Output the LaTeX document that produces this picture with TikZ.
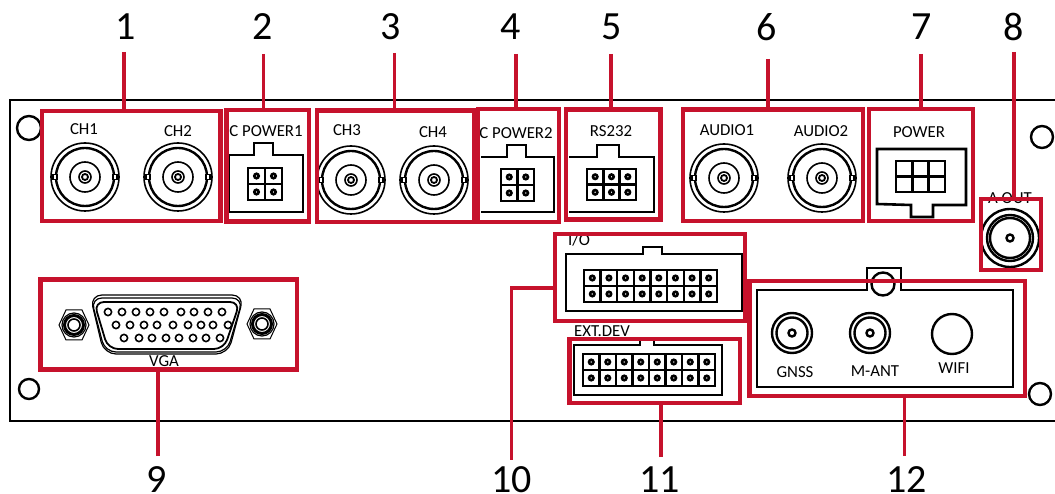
\documentclass[tikz,border=0pt]{standalone}
\usepackage{fontspec}
\setmainfont{Carlito}
\usetikzlibrary{fit}
\definecolor{callout}{RGB}{198,18,44}
\tikzset{
  redbox/.style={draw=callout,line width=4.6pt,inner sep=0pt,outer sep=0pt},
  lead/.style={draw=callout,line width=3.6pt},
  num/.style={inner sep=0pt,font=\fontsize{40}{40}\selectfont},
  lab/.style={inner sep=0pt,font=\fontsize{16.8}{17}\selectfont},
  panel/.style={draw=black,line width=1.9pt},
  thin/.style={draw=black,line width=1.6pt},
  thick/.style={draw=black,line width=2.4pt},
  housing/.style={draw=black,line width=2.6pt,line join=miter},
}
% BNC connector
\newcommand{\bncjack}[2]{%
  \draw[thin] (#1,#2) circle[radius=34pt];
  \draw[thick] (#1,#2) circle[radius=29pt];
  \draw[thin] (#1,#2) circle[radius=15pt];
  \draw[thin] (#1,#2) circle[radius=6pt];
  \draw[line width=1.8pt] (#1,#2) circle[radius=3pt];
  \draw[thin,fill=white] (#1-32,#2-2.5) rectangle (#1-28,#2+2.5);
  \draw[thin,fill=white] (#1+28,#2-2.5) rectangle (#1+32,#2+2.5);
}
% small coax
\newcommand{\coaxjack}[2]{%
  \draw[thick] (#1,#2) circle[radius=20pt];
  \draw[thick] (#1,#2) circle[radius=15.5pt];
  \draw[thick] (#1,#2) circle[radius=3.5pt];
}
% pin grid: x1 y1 x2 y2 nx ny withpins(1/0)
\newcommand{\pingrid}[7]{%
  \draw[line width=2.6pt] (#1,#2) rectangle (#3,#4);
  \pgfmathsetmacro{\cw}{(#3-#1)/#5}
  \pgfmathsetmacro{\ch}{(#4-#2)/#6}
  \foreach \i in {1,...,#5}{%
    \pgfmathsetmacro{\xx}{#1+\i*\cw}
    \draw[thick] (\xx,#2) -- (\xx,#4);
    \ifnum#7=1
      \foreach \j in {1,...,#6}{%
        \pgfmathsetmacro{\yy}{#2+(\j-0.5)*\ch}
        \pgfmathsetmacro{\xc}{\xx-0.5*\cw}
        \draw[line width=2.6pt] (\xc,\yy) circle[radius=2.2pt];
      }
    \fi
  }
  \foreach \j in {1,...,#6}{%
    \pgfmathsetmacro{\yy}{#2+\j*\ch}
    \draw[thick] (#1,\yy) -- (#3,\yy);
  }
}
\newcommand{\hexscrew}[2]{%
  \draw[line width=1pt] (#1-15,#2) -- (#1-8,#2-15) -- (#1+8,#2-15) -- (#1+15,#2) -- (#1+8,#2+15) -- (#1-8,#2+15) -- cycle;
  \draw[line width=1.2pt] (#1,#2) circle[radius=12pt];
  \draw[line width=3pt] (#1,#2) circle[radius=9.5pt];
  \draw[line width=1.6pt] (#1,#2) circle[radius=6pt];
}
\begin{document}
\begin{tikzpicture}[x=1pt,y=-1pt]
\useasboundingbox (0,0) rectangle (1055,494);
\clip (0,0) rectangle (1055,494);
% panel
\draw[panel] (1055,100) -- (10,100) -- (10,421) -- (1055,421);
\foreach \x/\y/\r in {29/128/12,1042/137/11,29/389/10,1040/394/11,883/284/11.5}
  \draw[thick] (\x,\y) circle[radius=\r pt];
% BNC jacks
\bncjack{85}{177}
\bncjack{178}{177}
\bncjack{351}{180}
\bncjack{434}{180}
\bncjack{724}{178}
\bncjack{822}{178}
% labels
\node[lab] (tch1) at (84,129) {CH1};
\node[lab] (tch2) at (178,131) {CH2};
\node[lab] (tch3) at (347,130) {CH3};
\node[lab] (tch4) at (433,132) {CH4};
\node[lab] (tcp1) at (266,131) {C POWER1};
\node[lab] (tcp2) at (516,133) {C POWER2};
\node[lab] (trs) at (611,131) {RS232};
\node[lab] (tau1) at (727,130) {AUDIO1};
\node[lab] (tau2) at (821,131) {AUDIO2};
\node[lab] (tpw) at (919,132) {POWER};
\node[lab] (taout) at (1010,198) {A OUT};
\node[lab] (tio) at (579,240) {I/O};
\node[lab] (text) at (602,331) {EXT.DEV};
\node[lab] (tgnss) at (795,372) {GNSS};
\node[lab] (tmant) at (875,371) {M-ANT};
\node[lab] (twifi) at (954,368) {WIFI};
\node[lab] (tvga) at (164,361) {VGA};
% C POWER1
\draw[housing] (229,155) -- (254,155) -- (254,143) -- (273,143) -- (273,155) -- (303,155) -- (303,212) -- (229,212) -- cycle;
\pingrid{248}{168}{282}{200}{2}{2}{1}
% C POWER2
\draw[housing] (481,157) -- (507,157) -- (507,145) -- (526,145) -- (526,157) -- (554,157) -- (554,212) -- (481,212);
\pingrid{501}{169}{534}{201}{2}{2}{1}
% RS232
\draw[housing] (569,157) -- (597,157) -- (597,145) -- (619,145) -- (619,157) -- (654,157) -- (654,212) -- (569,212);
\pingrid{587}{169}{636}{200}{3}{2}{1}
% POWER
\draw[housing] (877,149) -- (966,149) -- (966,205) -- (933,205) -- (933,217) -- (911,217) -- (911,205) -- (877,204) -- cycle;
\pingrid{896}{161}{945}{192}{3}{2}{0}
% A OUT
\draw[thick] (1010,238) circle[radius=29pt];
\draw[thick] (1010,238) circle[radius=23pt];
\draw[thick] (1010,238) circle[radius=20pt];
\draw[thick] (1010,238) circle[radius=3.5pt];
% I/O
\draw[housing] (566,254) -- (643,254) -- (643,247) -- (662,247) -- (662,254) -- (742,254) -- (742,311) -- (566,311) -- cycle;
\pingrid{584}{270}{717}{302}{8}{2}{1}
% EXT.DEV
\draw[housing] (640,341) -- (640,345) -- (574,345) -- (574,395) -- (722,395) -- (722,345) -- (654,345) -- (654,341);
\pingrid{583}{354}{715}{386}{8}{2}{1}
% antenna panel
\draw[housing] (757,290) -- (867,290) -- (867,268) -- (901,268) -- (901,290) -- (1013,290) -- (1013,387) -- (757,387) -- cycle;
\coaxjack{792}{333}
\coaxjack{870}{333}
\draw[thick] (952,334) circle[radius=20pt];
% VGA
\draw[line width=1.2pt,rounded corners=12pt] (90,295) -- (244,295) -- (228,354) -- (104,354) -- cycle;
\draw[line width=1.2pt,rounded corners=11pt] (91,298) -- (243,298) -- (227,352) -- (105,352) -- cycle;
\draw[line width=1.8pt,rounded corners=10pt] (94,302) -- (240,302) -- (224,349) -- (108,349) -- cycle;
\foreach \x in {108,122,136,150,164,181,194,208,222}
  \draw[line width=1.6pt] (\x,312) circle[radius=3.6pt];
\foreach \x in {116,130,144,157,173,188,201,213,228}
  \draw[line width=1.6pt] (\x,325) circle[radius=3.6pt];
\foreach \x in {124,139,152,166,179,193,206,220}
  \draw[line width=1.6pt] (\x,338) circle[radius=3.6pt];
\hexscrew{74}{325}
\hexscrew{262}{324}
% red boxes
\node[redbox,fit={(42,111) (220.5,221)}] (b1) {};
\node[redbox,fit={(226.5,110) (309,221.5)}] (b2) {};
\node[redbox,fit={(317,110.5) (474,222)}] (b3) {};
\node[redbox,fit={(478,109) (559,222)}] (b4) {};
\node[redbox,fit={(566,109.5) (660.5,219.5)}] (b5) {};
\node[redbox,fit={(683,109.5) (863,221)}] (b6) {};
\node[redbox,fit={(869,109) (973,221)}] (b7) {};
\node[redbox,fit={(981,199) (1041,270)}] (b8) {};
\node[redbox,fit={(40.5,279.5) (297,369.5)}] (b9) {};
\node[redbox,fit={(555,234) (745,321)}] (b10) {};
\node[redbox,fit={(569.5,339) (740,403)}] (b11) {};
\node[redbox,fit={(749.5,281) (1025,396)}] (b12) {};
% numbers
\node[num] (n1) at (125.5,27) {1};
\node[num] (n2) at (262.5,27) {2};
\node[num] (n3) at (391,27) {3};
\node[num] (n4) at (510.5,27) {4};
\node[num] (n5) at (612,27) {5};
\node[num] (n6) at (767,27) {6};
\node[num] (n7) at (921.5,27) {7};
\node[num] (n8) at (1014,27) {8};
\node[num] (n9) at (156.5,480) {9};
\node[num] (n10) at (511.5,480) {10};
\node[num] (n11) at (659.5,480) {11};
\node[num] (n12) at (906.5,480) {12};
% leader free ends
\coordinate (c1) at (124,52);
\coordinate (c2) at (263.5,54);
\coordinate (c3) at (394.5,53);
\coordinate (c4) at (516,54);
\coordinate (c5) at (611,54);
\coordinate (c6) at (768,59);
\coordinate (c7) at (921,54);
\coordinate (c8) at (1014,52);
\coordinate (c9) at (158,456);
\coordinate (c10) at (511.5,460);
\coordinate (c11) at (661,457);
\coordinate (c12) at (904.5,456);
\coordinate (j10) at (511.5,288);
\foreach \k in {1,...,8}
  \draw[lead] (c\k) -- (c\k |- b\k.north);
\foreach \k in {9,11,12}
  \draw[lead] (c\k) -- (c\k |- b\k.south);
\draw[lead] (j10 -| b10.west) -- (j10) -- (c10);
\end{tikzpicture}
\end{document}
